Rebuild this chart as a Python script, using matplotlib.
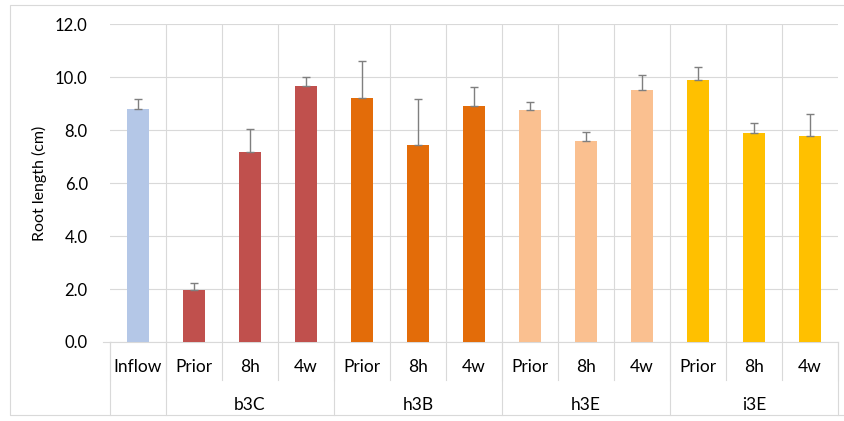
import numpy as np
import matplotlib.pyplot as plt
from matplotlib.lines import Line2D
from matplotlib.patches import Rectangle

plt.rcParams['font.family'] = ['Lato', 'DejaVu Sans']

# categories and values
labels = ["Inflow", "Prior", "8h", "4w", "Prior", "8h", "4w",
          "Prior", "8h", "4w", "Prior", "8h", "4w"]
groups = ["", "b3C", "h3B", "h3E", "i3E"]
group_sizes = [1, 3, 3, 3, 3]
group_colors = ["#B4C7E7", "#C0504D", "#E36C09", "#FAC090", "#FFC000"]
means = [8.80, 1.97, 7.18, 9.66, 9.22, 7.43, 8.92,
         8.74, 7.58, 9.51, 9.89, 7.87, 7.76]
errs = [0.38, 0.24, 0.87, 0.33, 1.38, 1.73, 0.71,
        0.33, 0.36, 0.57, 0.50, 0.38, 0.84]

colors = []
for c, n in zip(group_colors, group_sizes):
    colors += [c] * n

fig = plt.figure(figsize=(8.44, 4.21), dpi=100)
ax = fig.add_axes([110/844, 1-342/421, 728/844, 318/421])

x = np.arange(len(labels))
ax.bar(x, means, width=0.38, color=colors, zorder=3)
ax.errorbar(x, means, yerr=[np.zeros(len(errs)), errs], fmt="none",
            ecolor="#7F7F7F", elinewidth=1, capsize=3, capthick=1, zorder=4)

ax.set_xlim(-0.5, len(labels) - 0.5)
ax.set_ylim(0, 12)
ax.set_yticks(np.arange(0, 12.1, 2))
ax.set_yticklabels(["%.1f" % v for v in np.arange(0, 12.1, 2)], fontsize=12)
ax.set_ylabel("Root length (cm)", fontsize=11.5, labelpad=6)
ax.tick_params(axis="y", length=0, pad=16)
ax.tick_params(axis="x", length=0, labelbottom=False)
ax.yaxis.grid(True, color="#D9D9D9", lw=0.8, zorder=0)
for b in np.arange(0.5, len(labels) - 1, 1):
    ax.axvline(b, color="#D9D9D9", lw=0.8, zorder=0)
for s in ["top", "right", "left"]:
    ax.spines[s].set_visible(False)
ax.spines["bottom"].set_color("#D9D9D9")

trans = ax.get_xaxis_transform()
# category row
for i, lab in enumerate(labels):
    ax.text(i, -0.079, lab, transform=trans, ha="center", va="center", fontsize=12.5)
for b in np.arange(-0.5, len(labels), 1):
    ax.add_line(Line2D([b, b], [0, -0.119], transform=trans, color="#D9D9D9",
                       lw=0.8, clip_on=False))
# group row
start = -0.5
for g, n in zip(groups, group_sizes):
    ax.text(start + n / 2, -0.198, g, transform=trans, ha="center", va="center",
            fontsize=12.5)
    ax.add_line(Line2D([start, start], [0, -0.23], transform=trans,
                       color="#D9D9D9", lw=0.8, clip_on=False))
    start += n
ax.add_line(Line2D([start, start], [0, -0.23], transform=trans,
                   color="#D9D9D9", lw=0.8, clip_on=False))
# small tick left of the zero line
ax.add_line(Line2D([-0.62, -0.5], [0, 0], transform=trans, color="#D9D9D9",
                   lw=0.8, clip_on=False))

# outer chart frame
fig.patches.append(Rectangle((10/844, 1-415/421), 840/844, 410/421,
                             transform=fig.transFigure, fill=False,
                             edgecolor="#D9D9D9", lw=0.8))

fig.savefig("out.png", dpi=100)
